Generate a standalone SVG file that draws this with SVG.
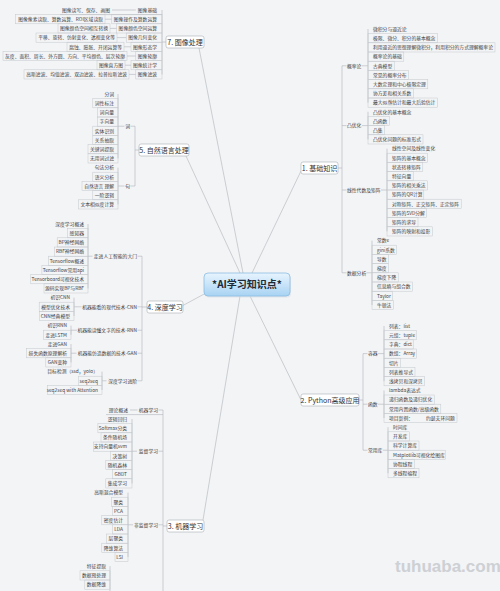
<svg xmlns="http://www.w3.org/2000/svg" width="500" height="591" viewBox="0 0 500 591">
<defs>
<linearGradient id="cg" x1="0" y1="0" x2="0" y2="1"><stop offset="0" stop-color="#e8f4fe"/><stop offset="1" stop-color="#a8d3f3"/></linearGradient>
<style>
.t{font-family:"Noto Sans CJK SC","Noto Sans",sans-serif;font-size:4.8px;fill:#404040}
.e{text-anchor:end}
.m{font-family:"Noto Sans CJK SC","Noto Sans",sans-serif;font-size:7px;fill:#333;text-anchor:middle}
.bx{fill:none;stroke:#c4c8cc;stroke-width:0.5}
.ln{fill:none;stroke:#aeb3b8;stroke-width:0.6}
.mb{fill:#fff;stroke:#a9aeb3;stroke-width:0.6}
</style>
</defs>
<rect width="500" height="591" fill="#f3f4f6"/>

<g id="connectors" class="ln">
<path d="M243 273L199 48M240 273L186 156M252 273L301 171M206 293L182 306M240 296L203 520M250 296L301 400"/>
<path d="M162 10V74.4M162 42H166"/>
<path d="M112 10H135.8M105 19.2H111.8M110 28.4H116.6M117 37.6H126.2M124 46.8H131M127 56H135.8M125 65.2H131M129 74.4H135.8M60 14.6H162"/>
<path d="M135 126.2V186M135 150H139M118 94V158.4M118 126.2H124.5M130.5 126.2H135M118 167.6V204.4M118 186H124.5M130.5 186H135"/>
<path d="M142 256.2V380.8M142 307H147M88 224V288.4M88 256.2H92.5M137.5 256.2H142M74 297.6V316M74 306.8H81.5M137.5 306.8H142M71 325.6V334.8M71 330.2H77M137.5 330.2H142M71 344V362.4M71 353.2H76.5M137.5 353.2H142M102 371.6V390M102 380.8H106.5M137.5 380.8H142"/>
<path d="M163 410V591M163 526H167M130 410H137.5M106 414.6H163M158.5 410H163M132 419V483.4M132 451.2H137M158.5 451.2H163M128 492.6V557M128 524.8H133M158.5 524.8H163M110 566.2V591"/>
<path d="M342 65.8V272.8M338 168H342M342 65.8H346.5M362 65.8H368M368 29V102.6M342 125.6H346.5M362 125.6H368M368 111.8V139.4M342 190H346.5M381 190H387M387 148.6V231.4M342 272.8H346.5M366.5 272.8H372M372 240.6V305"/>
<path d="M363 353.6V450.2M359 400H363M363 353.6H367.5M378 353.6H384M384 326V381.2M363 404.2H367.5M378 404.2H384M384 390.4V418M363 450.2H367.5M382.8 450.2H388M388 427.2V473.2"/>
</g>

<g id="center"><rect x="205" y="274.5" width="86" height="23" rx="4" fill="#d9dde2" opacity="0.6"/><rect x="204" y="273" width="86" height="23" rx="4" fill="url(#cg)" stroke="#8abde3" stroke-width="0.8"/><text x="247" y="288.2" font-family="'Noto Sans CJK SC','Noto Sans',sans-serif" font-size="10" font-weight="bold" fill="#1e2a36" text-anchor="middle">*AI学习知识点*</text></g>

<g id="n7"><rect class="mb" x="166" y="36" width="38" height="12" rx="2"/><text class="m" x="185" y="44.5">7. 图像处理</text></g>
<g id="n7-s1"><text class="t e" x="157" y="11.7">图像基础</text></g>
<g id="n7-s1-l"><text class="t e" x="110" y="11.7">图像读写、保存、画图</text></g>
<g id="n7-s2"><rect class="bx" x="111.8" y="14.6" width="50.2" height="9.2"/><text class="t e" x="157" y="20.9">图像操作及算数运算</text></g>
<g id="n7-s2-l"><rect class="bx" x="15.7" y="14.6" width="89.3" height="9.2"/><text class="t e" x="103" y="20.9">图像像素读取、算数运算、ROI区域读取</text></g>
<g id="n7-s3"><rect class="bx" x="116.6" y="23.8" width="45.4" height="9.2"/><text class="t e" x="157" y="30.1">图像颜色空间运算</text></g>
<g id="n7-s3-l"><rect class="bx" x="58" y="23.8" width="52" height="9.2"/><text class="t e" x="108" y="30.1">图像颜色空间相互转换</text></g>
<g id="n7-s4"><rect class="bx" x="126.2" y="33" width="35.8" height="9.2"/><text class="t e" x="157" y="39.3">图像几何变化</text></g>
<g id="n7-s4-l"><rect class="bx" x="36" y="33" width="81" height="9.2"/><text class="t e" x="115" y="39.3">平移、旋转、仿射变化、透视变化等</text></g>
<g id="n7-s5"><rect class="bx" x="131" y="42.2" width="31" height="9.2"/><text class="t e" x="157" y="48.5">图像形态学</text></g>
<g id="n7-s5-l"><rect class="bx" x="67" y="42.2" width="57" height="9.2"/><text class="t e" x="122" y="48.5">腐蚀、膨胀、开闭运算等</text></g>
<g id="n7-s6"><rect class="bx" x="135.8" y="51.4" width="26.2" height="9.2"/><text class="t e" x="157" y="57.7">图像轮廓</text></g>
<g id="n7-s6-l"><rect class="bx" x="3" y="51.4" width="124" height="9.2"/><text class="t e" x="125" y="57.7">灰度、面积、周长、外方圆、方向、平均颜色、层次轮廓</text></g>
<g id="n7-s7"><rect class="bx" x="131" y="60.6" width="31" height="9.2"/><text class="t e" x="157" y="66.9">图像统计学</text></g>
<g id="n7-s7-l"><rect class="bx" x="97" y="60.6" width="28" height="9.2"/><text class="t e" x="123" y="66.9">图像直方图</text></g>
<g id="n7-s8"><rect class="bx" x="135.8" y="69.8" width="26.2" height="9.2"/><text class="t e" x="157" y="76.1">图像滤波</text></g>
<g id="n7-s8-l"><rect class="bx" x="24" y="69.8" width="105" height="9.2"/><text class="t e" x="127" y="76.1">高斯滤波、均值滤波、双边滤波、拉普拉斯滤波</text></g>

<g id="n5"><rect class="mb" x="139" y="144" width="50" height="12" rx="2"/><text class="m" x="164" y="152.5">5. 自然语言处理</text></g>
<g id="n5-s1"><text class="t e" x="130" y="127.9">词</text></g>
<g id="n5-s1-l1"><text class="t e" x="114" y="95.7">分词</text></g>
<g id="n5-s1-l2"><rect class="bx" x="92.8" y="98.6" width="25.2" height="9.2"/><text class="t e" x="114" y="104.9">词性标注</text></g>
<g id="n5-s1-l3"><rect class="bx" x="97.6" y="107.8" width="20.4" height="9.2"/><text class="t e" x="114" y="114.1">词向量</text></g>
<g id="n5-s1-l4"><rect class="bx" x="97.6" y="117" width="20.4" height="9.2"/><text class="t e" x="114" y="123.3">字向量</text></g>
<g id="n5-s1-l5"><rect class="bx" x="92.8" y="126.2" width="25.2" height="9.2"/><text class="t e" x="114" y="132.5">实体识别</text></g>
<g id="n5-s1-l6"><rect class="bx" x="92.8" y="135.4" width="25.2" height="9.2"/><text class="t e" x="114" y="141.7">关系抽取</text></g>
<g id="n5-s1-l7"><rect class="bx" x="88" y="144.6" width="30" height="9.2"/><text class="t e" x="114" y="150.9">关键词提取</text></g>
<g id="n5-s1-l8"><rect class="bx" x="88" y="153.8" width="30" height="9.2"/><text class="t e" x="114" y="160.1">无用词过滤</text></g>
<g id="n5-s2"><text class="t e" x="130" y="187.7">句</text></g>
<g id="n5-s2-l1"><text class="t e" x="114" y="169.3">句法分析</text></g>
<g id="n5-s2-l2"><rect class="bx" x="92.8" y="172.2" width="25.2" height="9.2"/><text class="t e" x="114" y="178.5">语义分析</text></g>
<g id="n5-s2-l3"><rect class="bx" x="82" y="181.4" width="36" height="9.2"/><text class="t e" x="114" y="187.7">自然语言 理解</text></g>
<g id="n5-s2-l4"><rect class="bx" x="92.8" y="190.6" width="25.2" height="9.2"/><text class="t e" x="114" y="196.9">一阶逻辑</text></g>
<g id="n5-s2-l5"><rect class="bx" x="78.4" y="199.8" width="39.6" height="9.2"/><text class="t e" x="114" y="206.1">文本相似度计算</text></g>

<g id="n4"><rect class="mb" x="147" y="301" width="36" height="12" rx="2"/><text class="m" x="165" y="309.5">4. 深度学习</text></g>
<g id="n4-s1"><text class="t e" x="137" y="257.9">走进人工智能的大门</text></g>
<g id="n4-s1-l1"><text class="t e" x="84" y="225.7">深度学习概述</text></g>
<g id="n4-s1-l2"><rect class="bx" x="67.6" y="228.6" width="20.4" height="9.2"/><text class="t e" x="84" y="234.9">感知器</text></g>
<g id="n4-s1-l3"><rect class="bx" x="57.2" y="237.8" width="30.8" height="9.2"/><text class="t e" x="84" y="244.1">BP神经网络</text></g>
<g id="n4-s1-l4"><rect class="bx" x="54.4" y="247" width="33.6" height="9.2"/><text class="t e" x="84" y="253.3">RBF神经网络</text></g>
<g id="n4-s1-l5"><rect class="bx" x="48.3" y="256.2" width="39.7" height="9.2"/><text class="t e" x="84" y="262.5">Tensorflow概述</text></g>
<g id="n4-s1-l6"><rect class="bx" x="41.9" y="265.4" width="46.1" height="9.2"/><text class="t e" x="84" y="271.7">Tensorflow常用api</text></g>
<g id="n4-s1-l7"><rect class="bx" x="30.8" y="274.6" width="57.2" height="9.2"/><text class="t e" x="84" y="280.9">Tensorboard可视化技术</text></g>
<g id="n4-s1-l8"><rect class="bx" x="44" y="283.8" width="44" height="9.2"/><text class="t e" x="84" y="290.1">源码实现BP与RBF</text></g>
<g id="n4-s2"><text class="t e" x="137" y="308.5">机器能看的现代技术-CNN</text></g>
<g id="n4-s2-l1"><text class="t e" x="70" y="299.3">初识CNN</text></g>
<g id="n4-s2-l2"><rect class="bx" x="39.2" y="302.2" width="34.8" height="9.2"/><text class="t e" x="70" y="308.5">模型优化技术</text></g>
<g id="n4-s2-l3"><rect class="bx" x="39.5" y="311.4" width="34.5" height="9.2"/><text class="t e" x="70" y="317.7">CNN经典模型</text></g>
<g id="n4-s3"><text class="t e" x="137" y="331.9">机器能读懂文字的技术-RNN</text></g>
<g id="n4-s3-l1"><text class="t e" x="67" y="327.3">初识RNN</text></g>
<g id="n4-s3-l2"><rect class="bx" x="43.4" y="330.2" width="27.6" height="9.2"/><text class="t e" x="67" y="336.5">走进LSTM</text></g>
<g id="n4-s4"><text class="t e" x="137" y="354.9">机器能仿造数据的技术-GAN</text></g>
<g id="n4-s4-l1"><text class="t e" x="67" y="345.7">走进GAN</text></g>
<g id="n4-s4-l2"><rect class="bx" x="26.6" y="348.6" width="44.4" height="9.2"/><text class="t e" x="67" y="354.9">损失函数原理解析</text></g>
<g id="n4-s4-l3"><rect class="bx" x="45.8" y="357.8" width="25.2" height="9.2"/><text class="t e" x="67" y="364.1">GAN变种</text></g>
<g id="n4-s5"><text class="t e" x="137" y="382.5">深度学习进阶</text></g>
<g id="n4-s5-l1"><text class="t e" x="98" y="373.3">目标检测（ssd，yolo）</text></g>
<g id="n4-s5-l2"><rect class="bx" x="78.4" y="376.2" width="23.6" height="9.2"/><text class="t e" x="98" y="382.5">seq2seq</text></g>
<g id="n4-s5-l3"><rect class="bx" x="47.4" y="385.4" width="54.6" height="9.2"/><text class="t e" x="98" y="391.7">seq2seq with Attention</text></g>

<g id="n3"><rect class="mb" x="167" y="520" width="37" height="12" rx="2"/><text class="m" x="185.5" y="528.5">3. 机器学习</text></g>
<g id="n3-s1"><text class="t e" x="158" y="411.7">机器学习</text></g>
<g id="n3-s1-l1"><text class="t e" x="128" y="411.7">理论概述</text></g>
<g id="n3-s2"><text class="t e" x="158" y="452.9">监督学习</text></g>
<g id="n3-s2-l1"><text class="t e" x="127" y="420.7">逻辑回归</text></g>
<g id="n3-s2-l2"><rect class="bx" x="97.9" y="423.6" width="34.1" height="9.2"/><text class="t e" x="127" y="429.9">Softmax分类</text></g>
<g id="n3-s2-l3"><rect class="bx" x="101" y="432.8" width="31" height="9.2"/><text class="t e" x="127" y="439.1">条件随机场</text></g>
<g id="n3-s2-l4"><rect class="bx" x="93.5" y="442" width="38.5" height="9.2"/><text class="t e" x="127" y="448.3">支持向量机svm</text></g>
<g id="n3-s2-l5"><rect class="bx" x="110.6" y="451.2" width="21.4" height="9.2"/><text class="t e" x="127" y="457.5">决策树</text></g>
<g id="n3-s2-l6"><rect class="bx" x="105.8" y="460.4" width="26.2" height="9.2"/><text class="t e" x="127" y="466.7">随机森林</text></g>
<g id="n3-s2-l7"><rect class="bx" x="112.5" y="469.6" width="19.5" height="9.2"/><text class="t e" x="127" y="475.9">GBDT</text></g>
<g id="n3-s2-l8"><rect class="bx" x="105.8" y="478.8" width="26.2" height="9.2"/><text class="t e" x="127" y="485.1">集成学习</text></g>
<g id="n3-s3"><text class="t e" x="158" y="526.5">非监督学习</text></g>
<g id="n3-s3-l1"><text class="t e" x="123" y="494.3">高斯混合模型</text></g>
<g id="n3-s3-l2"><rect class="bx" x="111.4" y="497.2" width="16.6" height="9.2"/><text class="t e" x="123" y="503.5">聚类</text></g>
<g id="n3-s3-l3"><rect class="bx" x="112.5" y="506.4" width="15.5" height="9.2"/><text class="t e" x="123" y="512.7">PCA</text></g>
<g id="n3-s3-l4"><rect class="bx" x="101.8" y="515.6" width="26.2" height="9.2"/><text class="t e" x="123" y="521.9">密度估计</text></g>
<g id="n3-s3-l5"><rect class="bx" x="112.7" y="524.8" width="15.3" height="9.2"/><text class="t e" x="123" y="531.1">LDA</text></g>
<g id="n3-s3-l6"><rect class="bx" x="106.6" y="534" width="21.4" height="9.2"/><text class="t e" x="123" y="540.3">层聚类</text></g>
<g id="n3-s3-l7"><rect class="bx" x="101.8" y="543.2" width="26.2" height="9.2"/><text class="t e" x="123" y="549.5">降维算法</text></g>
<g id="n3-s3-l8"><rect class="bx" x="115" y="552.4" width="13" height="9.2"/><text class="t e" x="123" y="558.7">LSI</text></g>
<g id="n3-s4-l1"><text class="t e" x="106" y="567.9">特征提取</text></g>
<g id="n3-s4-l2"><rect class="bx" x="80" y="570.8" width="30" height="9.2"/><text class="t e" x="106" y="577.1">数据预处理</text></g>
<g id="n3-s4-l3"><rect class="bx" x="84.8" y="580" width="25.2" height="9.2"/><text class="t e" x="106" y="586.3">数据降维</text></g>

<g id="n1"><rect class="mb" x="301" y="162" width="37" height="12" rx="2"/><text class="m" x="319.5" y="170.5">1. 基础知识</text></g>
<g id="n1-s1"><text class="t" x="347" y="67.5">概率论</text></g>
<g id="n1-s1-l1"><text class="t" x="373" y="30.7">微积分与逼近论</text></g>
<g id="n1-s1-l2"><rect class="bx" x="368" y="33.6" width="69.4" height="9.2"/><text class="t" x="373" y="39.9">极限、微分、积分的基本概念</text></g>
<g id="n1-s1-l3"><rect class="bx" x="368" y="42.8" width="127" height="9.2"/><text class="t" x="373" y="49.1">利用逼近的思想理解微积分，利用积分的方式理解概率论</text></g>
<g id="n1-s1-l4"><rect class="bx" x="368" y="52" width="35.8" height="9.2"/><text class="t" x="373" y="58.3">概率论的基础</text></g>
<g id="n1-s1-l5"><rect class="bx" x="368" y="61.2" width="26.2" height="9.2"/><text class="t" x="373" y="67.5">古典模型</text></g>
<g id="n1-s1-l6"><rect class="bx" x="368" y="70.4" width="40.6" height="9.2"/><text class="t" x="373" y="76.7">常见的概率分布</text></g>
<g id="n1-s1-l7"><rect class="bx" x="368" y="79.6" width="59.8" height="9.2"/><text class="t" x="373" y="85.9">大数定理和中心极限定理</text></g>
<g id="n1-s1-l8"><rect class="bx" x="368" y="88.8" width="45.4" height="9.2"/><text class="t" x="373" y="95.1">协方差和相关系数</text></g>
<g id="n1-s1-l9"><rect class="bx" x="368" y="98" width="69.4" height="9.2"/><text class="t" x="373" y="104.3">最大似然估计和最大后验估计</text></g>
<g id="n1-s2"><text class="t" x="347" y="127.3">凸优化</text></g>
<g id="n1-s2-l1"><text class="t" x="373" y="113.5">凸优化的基本概念</text></g>
<g id="n1-s2-l2"><rect class="bx" x="368" y="116.4" width="21.4" height="9.2"/><text class="t" x="373" y="122.7">凸函数</text></g>
<g id="n1-s2-l3"><rect class="bx" x="368" y="125.6" width="16.6" height="9.2"/><text class="t" x="373" y="131.9">凸集</text></g>
<g id="n1-s2-l4"><rect class="bx" x="368" y="134.8" width="55" height="9.2"/><text class="t" x="373" y="141.1">凸优化问题的标准形式</text></g>
<g id="n1-s3"><text class="t" x="347" y="191.7">线性代数及矩阵</text></g>
<g id="n1-s3-l1"><text class="t" x="392" y="150.3">线性空间及线性变化</text></g>
<g id="n1-s3-l2"><rect class="bx" x="387" y="153.2" width="40.6" height="9.2"/><text class="t" x="392" y="159.5">矩阵的基本概念</text></g>
<g id="n1-s3-l3"><rect class="bx" x="387" y="162.4" width="35.8" height="9.2"/><text class="t" x="392" y="168.7">状态转移矩阵</text></g>
<g id="n1-s3-l4"><rect class="bx" x="387" y="171.6" width="26.2" height="9.2"/><text class="t" x="392" y="177.9">特征向量</text></g>
<g id="n1-s3-l5"><rect class="bx" x="387" y="180.8" width="40.6" height="9.2"/><text class="t" x="392" y="187.1">矩阵的相关乘法</text></g>
<g id="n1-s3-l6"><rect class="bx" x="387" y="190" width="36.8" height="9.2"/><text class="t" x="392" y="196.3">矩阵的QR计算</text></g>
<g id="n1-s3-l7"><rect class="bx" x="387" y="199.2" width="74.2" height="9.2"/><text class="t" x="392" y="205.5">对称矩阵、正交矩阵、正定矩阵</text></g>
<g id="n1-s3-l8"><rect class="bx" x="387" y="208.4" width="39.6" height="9.2"/><text class="t" x="392" y="214.7">矩阵的SVD分解</text></g>
<g id="n1-s3-l9"><rect class="bx" x="387" y="217.6" width="31" height="9.2"/><text class="t" x="392" y="223.9">矩阵的求导</text></g>
<g id="n1-s3-l10"><rect class="bx" x="387" y="226.8" width="45.4" height="9.2"/><text class="t" x="392" y="233.1">矩阵的映射和投影</text></g>
<g id="n1-s4"><text class="t" x="347" y="274.5">数据分析</text></g>
<g id="n1-s4-l1"><text class="t" x="377" y="242.3">常数e</text></g>
<g id="n1-s4-l2"><rect class="bx" x="372" y="245.2" width="24.4" height="9.2"/><text class="t" x="377" y="251.5">gini系数</text></g>
<g id="n1-s4-l3"><rect class="bx" x="372" y="254.4" width="16.6" height="9.2"/><text class="t" x="377" y="260.7">导数</text></g>
<g id="n1-s4-l4"><rect class="bx" x="372" y="263.6" width="16.6" height="9.2"/><text class="t" x="377" y="269.9">梯度</text></g>
<g id="n1-s4-l5"><rect class="bx" x="372" y="272.8" width="26.2" height="9.2"/><text class="t" x="377" y="279.1">梯度下降</text></g>
<g id="n1-s4-l6"><rect class="bx" x="372" y="282" width="40.6" height="9.2"/><text class="t" x="377" y="288.3">信息熵与组合数</text></g>
<g id="n1-s4-l7"><rect class="bx" x="372" y="291.2" width="20.4" height="9.2"/><text class="t" x="377" y="297.5">Taylor</text></g>
<g id="n1-s4-l8"><rect class="bx" x="372" y="300.4" width="21.4" height="9.2"/><text class="t" x="377" y="306.7">牛顿法</text></g>

<g id="n2"><rect class="mb" x="301" y="394" width="58" height="12" rx="2"/><text class="m" x="330" y="402.5">2. Python高级应用</text></g>
<g id="n2-s1"><text class="t" x="368" y="355.3">容器</text></g>
<g id="n2-s1-l1"><text class="t" x="389" y="327.7">列表：list</text></g>
<g id="n2-s1-l2"><rect class="bx" x="384" y="330.6" width="32.2" height="9.2"/><text class="t" x="389" y="336.9">元组：tuple</text></g>
<g id="n2-s1-l3"><rect class="bx" x="384" y="339.8" width="29.2" height="9.2"/><text class="t" x="389" y="346.1">字典：dict</text></g>
<g id="n2-s1-l4"><rect class="bx" x="384" y="349" width="32.7" height="9.2"/><text class="t" x="389" y="355.3">数组：Array</text></g>
<g id="n2-s1-l5"><rect class="bx" x="384" y="358.2" width="16.6" height="9.2"/><text class="t" x="389" y="364.5">切片</text></g>
<g id="n2-s1-l6"><rect class="bx" x="384" y="367.4" width="31" height="9.2"/><text class="t" x="389" y="373.7">列表推导式</text></g>
<g id="n2-s1-l7"><rect class="bx" x="384" y="376.6" width="40.6" height="9.2"/><text class="t" x="389" y="382.9">浅拷贝和深拷贝</text></g>
<g id="n2-s2"><text class="t" x="368" y="405.9">函数</text></g>
<g id="n2-s2-l1"><text class="t" x="389" y="392.1">lambda表达式</text></g>
<g id="n2-s2-l2"><rect class="bx" x="384" y="395" width="50.2" height="9.2"/><text class="t" x="389" y="401.3">递归函数及递归优化</text></g>
<g id="n2-s2-l3"><rect class="bx" x="384" y="404.2" width="56.8" height="9.2"/><text class="t" x="389" y="410.5">常用内置函数/高级函数</text></g>
<g id="n2-s2-l4"><rect class="bx" x="384" y="413.4" width="73" height="9.2"/><text class="t" x="389" y="419.7">项目案例：<tspan x="426">约瑟夫环问题</tspan></text></g>
<g id="n2-s3"><text class="t" x="368" y="451.9">常用库</text></g>
<g id="n2-s3-l1"><text class="t" x="393" y="428.9">时间库</text></g>
<g id="n2-s3-l2"><rect class="bx" x="388" y="431.8" width="21.4" height="9.2"/><text class="t" x="393" y="438.1">开发库</text></g>
<g id="n2-s3-l3"><rect class="bx" x="388" y="441" width="31" height="9.2"/><text class="t" x="393" y="447.3">科学计算库</text></g>
<g id="n2-s3-l4"><rect class="bx" x="388" y="450.2" width="57.2" height="9.2"/><text class="t" x="393" y="456.5">Matplotlib可视化绘图库</text></g>
<g id="n2-s3-l5"><rect class="bx" x="388" y="459.4" width="26.2" height="9.2"/><text class="t" x="393" y="465.7">协程线程</text></g>
<g id="n2-s3-l6"><rect class="bx" x="388" y="468.6" width="31" height="9.2"/><text class="t" x="393" y="474.9">多线程编程</text></g>

<text x="395" y="572" font-family="'Liberation Sans',Arial,sans-serif" font-size="17" font-weight="bold" fill="#cdd0d4">tuhuaba.com</text>
</svg>
